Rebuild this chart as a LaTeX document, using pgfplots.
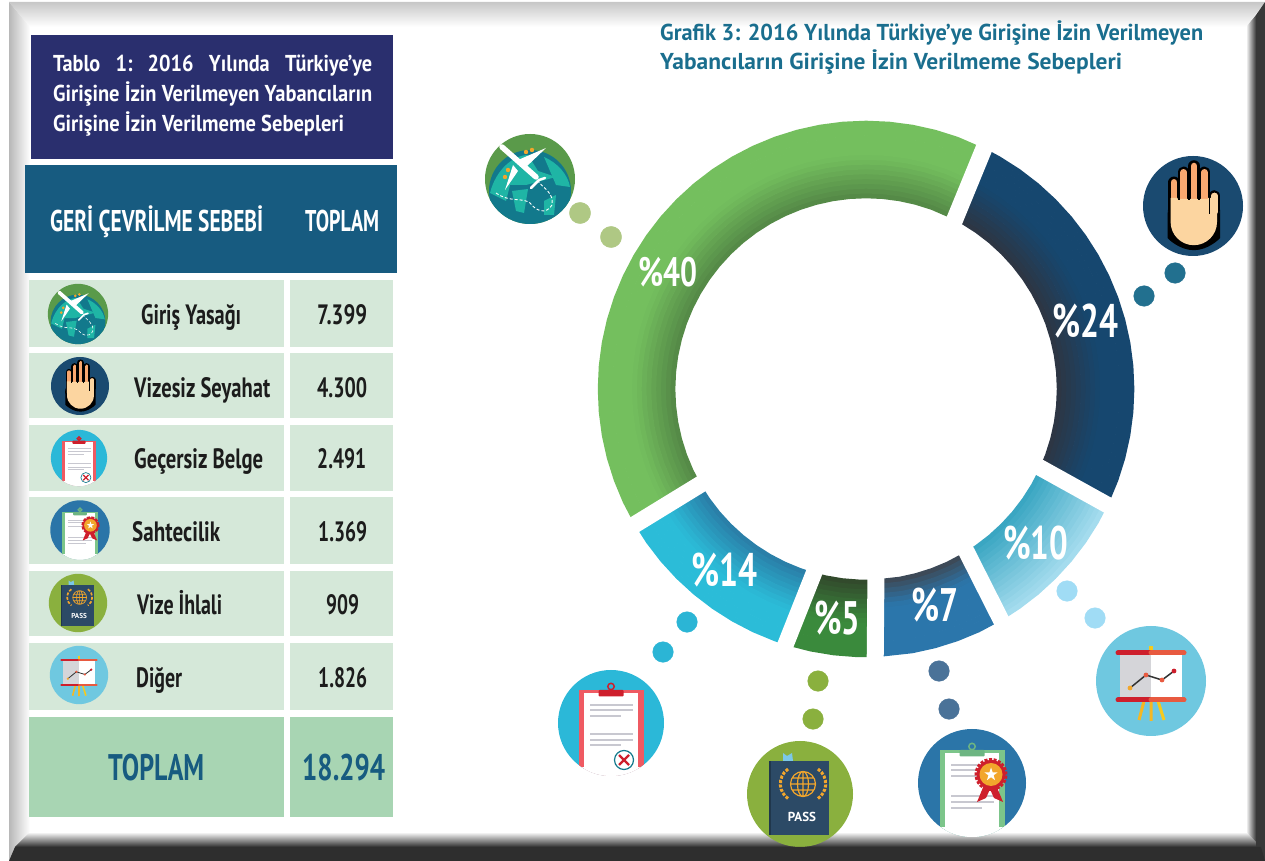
\documentclass[border=0pt]{standalone}
\usepackage{fontspec}
\usepackage{graphicx}
\usepackage{pgfplots}
\usepackage{pgfplotstable}
\pgfplotsset{compat=1.18}
\setmainfont{PT Sans}
\newfontfamily\din{PT Sans}[BoldFont={PT Sans Bold}]

\definecolor{cNavyBox}{HTML}{2A2F6E}
\definecolor{cHead}{HTML}{175B80}
\definecolor{cRow}{HTML}{D5E8D9}
\definecolor{cTotal}{HTML}{A8D5B3}
\definecolor{cTitle}{HTML}{1A6E8E}
\definecolor{cInk}{HTML}{1C1C1C}
\definecolor{gIn}{HTML}{558A47}\definecolor{gOut}{HTML}{74BF5E}
\definecolor{nIn}{HTML}{2D3644}\definecolor{nOut}{HTML}{16476F}
\definecolor{lIn}{HTML}{3AA6C2}\definecolor{lOut}{HTML}{A4DCEE}
\definecolor{bIn}{HTML}{3D4A58}\definecolor{bOut}{HTML}{2B76AB}
\definecolor{dIn}{HTML}{324A2C}\definecolor{dOut}{HTML}{3A8A3C}
\definecolor{cIn}{HTML}{2A7FA8}\definecolor{cOut}{HTML}{2BBCD8}

% ring segments: angles in degrees, ends meet in the middle of the white gaps
\pgfplotstableread{
theta
63.2
60
55
50
45
40
35
30
25
20
15
10
5
0
-5
-10
-15
-20
-25
}\tNavy
\pgfplotstableread{
theta
-25
-30
-35
-40
-45
-50
-55
-59
}\tLight
\pgfplotstableread{
theta
-59
-65
-70
-75
-80
-87.5
}\tBlue
\pgfplotstableread{
theta
-87.5
-92
-97
-102
-106.6
}\tDark
\pgfplotstableread{
theta
-106.6
-110
-115
-120
-125
-130
-135
-140
-145
-149.8
}\tCyan
\pgfplotstableread{
theta
-149.8
-155
-160
-165
-170
-175
-180
-185
-190
-195
-200
-205
-210
-215
-220
-225
-230
-235
-240
-245
-250
-255
-260
-265
-270
-275
-280
-285
-290
-296.8
}\tGreen

\def\stripx#1#2#3#4/#5;{%
  \addplot[no markers, data cs=polar, line width=5.4pt, draw=#2!#5!#3]
    table[x index=0, y index=0, y expr=#4] {#1};}
% inner shadow over about 45 px
\newcommand\segA[3]{\pgfplotsinvokeforeach{193.4/100;,198.2/88;,203/76;,207.8/64;,212.6/52;,217.5/40;,222.3/28;,227.1/16;,231.9/6;,236.7/0;,241.5/0;,246.3/0;,251.1/0;,256/0;,260.8/0;,265.6/0;}{\stripx{#1}{#2}{#3}##1}}
% gradient across the whole ring
\newcommand\segB[3]{\pgfplotsinvokeforeach{193.4/100;,198.2/93;,203/87;,207.8/80;,212.6/73;,217.5/67;,222.3/60;,227.1/53;,231.9/47;,236.7/40;,241.5/33;,246.3/27;,251.1/20;,256/13;,260.8/7;,265.6/0;}{\stripx{#1}{#2}{#3}##1}}
% short dark edge, about 25 px
\newcommand\segC[3]{\pgfplotsinvokeforeach{193.4/100;,198.2/80;,203/60;,207.8/40;,212.6/20;,217.5/5;,222.3/0;,227.1/0;,231.9/0;,236.7/0;,241.5/0;,246.3/0;,251.1/0;,256/0;,260.8/0;,265.6/0;}{\stripx{#1}{#2}{#3}##1}}

\newcommand\fs[1]{\fontsize{#1}{#1}\selectfont}
% x, baseline, width, size, colour, text: width is forced to the measured one
\newcommand\tx[6]{\node[anchor=base west, inner sep=0pt, text=#5] at (#1,#2)
  {\resizebox{#3pt}{\height}{\din\bfseries\fs{#4}#6}};}

\newcommand\iconplane[3]{\begin{scope}[shift={(#1,#2)},y=1pt,scale=#3]
  \fill[HTMLg] (0,0) circle (45);
  \begin{scope}
    \clip (0,0) circle (45);
    \fill[HTMLt] (0,-12) circle (41);
    \fill[HTMLl] (-40,-14) .. controls (-34,10) and (-16,24) .. (-2,24) -- (8,8) -- (26,2) -- (-4,-6) -- (-20,-6) -- (-24,-22) -- cycle;
    \fill[HTMLl] (-18,-12) -- (-2,-10) -- (-6,-34) -- (-14,-32) -- cycle;
    \fill[HTMLl] (14,22) .. controls (28,16) and (38,4) .. (40,-8) -- (26,-6) -- (20,8) -- cycle;
    \fill[HTMLl] (14,-22) -- (26,-16) -- (24,-36) -- (14,-36) -- cycle;
  \end{scope}
  \draw[white, line width=#3*0.9pt, dash pattern=on 3pt off 2pt] (-34,-14) .. controls (-20,-24) and (-8,-18) .. (0,-24) .. controls (6,-32) and (16,-36) .. (22,-26) .. controls (24,-14) and (14,-10) .. (8,-2);
  \fill[HTMLo] (-4,27) circle (2.2) (2,29) circle (2.2) (-22,9) circle (2.2) (-25,2) circle (2.2);
  \draw[white, line cap=round, line width=#3*5.5pt] (-28,32) -- (6,2);
  \fill[white] (-12,19) -- (16,31) -- (-5,11) -- cycle;
  \fill[white] (-17,14) -- (-25,-11) -- (-12,8) -- cycle;
  \draw[white, line width=#3*2.5pt, line cap=round] (1,-9) -- (9,-1) -- (15,1);
\end{scope}}

\newcommand\iconhand[3]{\begin{scope}[shift={(#1,#2)},y=1pt,scale=#3]
  \fill[HTMLn] (0,0) circle (50);
  \foreach \fx/\ft in {-19/27.7,-9.3/37.7,1/44,11.3/37.7,21.3/14}{
    \draw[black, line cap=round, line width=#3*11.5pt] (\fx,-4) -- (\fx,\ft-4);
  }
  \fill[black, rounded corners=14*#3pt] (-25.5,4) -- (27,4) -- (27,-18) arc (0:-180:26.2) -- cycle;
  \foreach \fx/\ft in {-19/27.7,-9.3/37.7,1/44,11.3/37.7,21.3/14}{
    \draw[HTMLa, line cap=round, line width=#3*6.5pt] (\fx,6) -- (\fx,\ft-4);
  }
  \fill[HTMLb] (-22.5,8) -- (-15.5,8) -- (-15.5,7) -- (15,7) -- (15,8) -- (24,8) -- (24,-16) arc (0:-180:23.2) -- cycle;
  \draw[HTMLb, line width=#3*6.5pt, line cap=round] (21.3,-6) -- (21.3,10);
  \draw[black, line width=#3*1.6pt] (-14.2,27) -- (-14.2,6) (-4.2,32) -- (-4.2,6) (6.2,32) -- (6.2,6) (16.4,24) -- (16.4,-8);
\end{scope}}

% shared clipboard body: radius, colours of disc, board, clip
\newcommand\clipboard[4]{
  \fill[#2] (0,0) circle (#1);
  \begin{scope}
    \clip (0,0) circle (#1);
    \fill[#3] (-32.5,32.5) rectangle (32.5,-60);
    \fill[white] (-27,30) rectangle (27,-60);
    \fill[white] (-60,-44) rectangle (60,-60);
  \end{scope}
  \fill[#4, rounded corners=1pt] (-12.5,33) rectangle (12.5,26.5);
  \draw[#4, line width=1.5pt] (0,36.5) circle (3.2);
}

\newcommand\iconcross[3]{\begin{scope}[shift={(#1,#2)},y=1pt,scale=#3]
  \clipboard{53}{HTMLc}{HTMLr}{HTMLq}
  \draw[HTMLs, line width=#3*1.7pt]
    (-21,18) -- (22,18) (-21,13) -- (22,13) (-21,7) -- (10,7)
    (-21,-11) -- (22,-11) (-21,-17) -- (22,-17) (-21,-22) -- (10,-22);
  \fill[white] (13,-37) circle (10);
  \draw[HTMLt, line width=#3*1.2pt] (13,-37) circle (9.5);
  \draw[HTMLq, line width=#3*2.4pt] (8,-32) -- (18,-42) (8,-42) -- (18,-32);
\end{scope}}

\newcommand\iconaward[3]{\begin{scope}[shift={(#1,#2)},y=1pt,scale=#3]
  \clipboard{54}{HTMLu}{HTMLv}{HTMLw}
  \draw[HTMLs, line width=#3*1.7pt]
    (-21,18) -- (10,18) (-21,13) -- (10,13) (-21,7) -- (5,7)
    (-21,-13) -- (22,-13) (-21,-19) -- (22,-19) (-21,-25) -- (10,-25);
  \fill[HTMLq] (12,-2) -- (5,-19) -- (14,-15) -- (19,-4) -- cycle;
  \fill[HTMLq] (24,-2) -- (31,-19) -- (22,-15) -- (17,-4) -- cycle;
  \fill[HTMLq] (19,8.5) circle (14.5);
  \draw[HTMLq, line width=#3*3pt, dash pattern=on 3pt off 1.5pt] (19,8.5) circle (15);
  \fill[HTMLo] (19,8.5) circle (11.5);
  \fill[white] (19,15.5) -- (20.6,10.7) -- (25.7,10.7) -- (21.6,7.7) -- (23.1,2.8) -- (19,5.8) -- (14.9,2.8) -- (16.4,7.7) -- (12.3,10.7) -- (17.4,10.7) -- cycle;
\end{scope}}

\newcommand\iconpass[3]{\begin{scope}[shift={(#1,#2)},y=1pt,scale=#3]
  \fill[HTMLp] (0,0) circle (53);
  \fill[HTMLx] (-17,33) -- (-17,41) -- (-13,38) -- (-8,41) -- (-7,33) -- cycle;
  \fill[HTMLy] (-31,33) rectangle (29,-41);
  \fill[black, opacity=.25] (-31,33) rectangle (-29,-41);
  \draw[HTMLo, line width=#3*1.2pt] (3,10) circle (12.5) (3,10) ellipse (5.5 and 12.5)
     (-9.5,10) -- (15.5,10) (-8,16) -- (14,16) (-8,4) -- (14,4) (3,22.5) -- (3,-2.5);
  \draw[HTMLo, line width=#3*3pt, dash pattern=on 3pt off 1.5pt] (-12,25) arc (125:235:18) (18,25) arc (55:-55:18);
  \node[text=white, inner sep=0pt, scale=#3] at (2,-23) {\din\bfseries\fs{13}PASS};
\end{scope}}

\newcommand\iconchart[3]{\begin{scope}[shift={(#1,#2)},y=1pt,scale=#3]
  \fill[HTMLz] (0,0) circle (55);
  \fill[HTMLo!60!yellow] (-1.8,35) rectangle (1.8,25);
  \fill[HTMLs!80!gray!60] (-31,26) rectangle (0,-18);
  \fill[white] (0,26) rectangle (31,-18);
  \draw[HTMLo!80!yellow, line width=#3*3pt] (0,-20) -- (0,-40) (-7,-20) -- (-12,-39);
  \draw[HTMLo!60!yellow, line width=#3*3pt] (7,-20) -- (13,-39);
  \draw[HTMLq, line width=#3*5pt, line cap=round] (-33,28) -- (0,28) (-33,-19) -- (0,-19);
  \draw[HTMLe, line width=#3*5pt, line cap=round] (0,28) -- (33,28) (0,-19) -- (33,-19);
  \draw[HTMLk, line width=#3*1.5pt] (-21,-7) -- (-5,6) -- (11,1) -- (23,10);
  \fill[HTMLo] (-21,-7) circle (2.4);
  \fill[HTMLe] (-5,6) circle (2.4) (11,1) circle (2.4);
  \fill[HTMLq] (23,10) circle (2.4);
\end{scope}}

\definecolor{HTMLg}{HTML}{5A9A4A}\definecolor{HTMLt}{HTML}{12798C}
\definecolor{HTMLl}{HTML}{1FB5A5}\definecolor{HTMLo}{HTML}{F2A62C}
\definecolor{HTMLn}{HTML}{1A4A70}\definecolor{HTMLa}{HTML}{F9A870}
\definecolor{HTMLb}{HTML}{FCD5A0}\definecolor{HTMLc}{HTML}{2BB8D8}
\definecolor{HTMLr}{HTML}{EF5A62}\definecolor{HTMLq}{HTML}{CE1F2C}
\definecolor{HTMLs}{HTML}{C8C8D0}\definecolor{HTMLu}{HTML}{2B75A8}
\definecolor{HTMLv}{HTML}{7CC58A}\definecolor{HTMLw}{HTML}{6DB582}
\definecolor{HTMLp}{HTML}{8AB03E}\definecolor{HTMLx}{HTML}{7CC8E8}
\definecolor{HTMLy}{HTML}{2C4A66}\definecolor{HTMLz}{HTML}{6FC8E0}
\definecolor{HTMLe}{HTML}{E85A40}\definecolor{HTMLk}{HTML}{333333}
\definecolor{dotA}{RGB}{175,200,132}\definecolor{dotB}{RGB}{34,112,143}
\definecolor{dotC}{RGB}{43,181,213}\definecolor{dotD}{RGB}{138,176,62}
\definecolor{dotE}{RGB}{74,114,152}\definecolor{dotF}{RGB}{160,220,245}

\begin{document}
\begin{tikzpicture}
\useasboundingbox (0pt,0pt) rectangle (1265pt,861pt);

% bevel shading goes under everything else
\begin{scope}[shift={(0pt,861pt)}, x=1pt, y=-1pt]
\shade[top color=black!22, bottom color=white] (9,2) -- (1265,2) -- (1246,27) -- (30,27) -- cycle;
\shade[left color=black!28, right color=white] (9,2) -- (30,27) -- (30,832) -- (9,861) -- cycle;
\shade[left color=white, right color=black!78] (1246,27) -- (1256,15) -- (1256,847) -- (1246,832) -- cycle;
\shade[top color=white, bottom color=black!82] (30,832) -- (1246,832) -- (1261,847) -- (15,847) -- cycle;
\end{scope}

% ring, centred on the origin, one unit is one pixel of the reference
\begin{axis}[at={(0pt,0pt)}, anchor=south west, width=1265pt, height=861pt,
  scale only axis, hide axis, xmin=-866, xmax=399, ymin=-472, ymax=389]
\segA{\tNavy}{nIn}{nOut}
\segB{\tLight}{lIn}{lOut}
\segC{\tBlue}{bIn}{bOut}
\segA{\tDark}{dIn}{dOut}
\segA{\tCyan}{cIn}{cOut}
\segA{\tGreen}{gIn}{gOut}
\addplot[white, no markers, line width=17pt] coordinates {(123,253) (84,158)};
\addplot[white, no markers, line width=16.5pt] coordinates {(254,-123) (162,-72)};
\addplot[white, no markers, line width=16.5pt] coordinates {(142,-245) (94,-150)};
\addplot[white, no markers, line width=17pt] coordinates {(9,-285) (10,-174)};
\addplot[white, no markers, line width=16.5pt] coordinates {(-87,-272) (-45.6,-167.6)};
\addplot[white, no markers, line width=17pt] coordinates {(-245,-144) (-152,-87)};
\end{axis}

% dots between the ring and the icons
\begin{axis}[at={(0pt,0pt)}, anchor=south west, width=1265pt, height=861pt,
  scale only axis, hide axis, xmin=0, xmax=1265, ymin=0, ymax=861, y dir=reverse]
\addplot[only marks, mark=*, mark size=10.6pt, color=dotA, mark options={draw=dotA, fill=dotA}] coordinates {(580,213) (611,237)};
\addplot[only marks, mark=*, mark size=10.3pt, color=dotB, mark options={draw=dotB, fill=dotB}] coordinates {(1175,273) (1144,296)};
\addplot[only marks, mark=*, mark size=10.3pt, color=dotC, mark options={draw=dotC, fill=dotC}] coordinates {(687,622) (663,652)};
\addplot[only marks, mark=*, mark size=10.3pt, color=dotD, mark options={draw=dotD, fill=dotD}] coordinates {(818,681) (813,719)};
\addplot[only marks, mark=*, mark size=10.3pt, color=dotE, mark options={draw=dotE, fill=dotE}] coordinates {(939,671) (949,709)};
\addplot[only marks, mark=*, mark size=10.3pt, color=dotF, mark options={draw=dotF, fill=dotF}] coordinates {(1067,591) (1095,618)};
\end{axis}

% table, labels, icons and frame in reference pixels, y downwards
\begin{scope}[shift={(0pt,861pt)}, x=1pt, y=-1pt]
\fill[cNavyBox] (31,35) rectangle (393,159);
\fill[cHead] (25,165) rectangle (397,273);
\foreach \ya/\yb in {280/347,353/418,425/491,497/564,571/636,643/710}{
  \fill[cRow] (29,\ya) rectangle (284,\yb);
  \fill[cRow] (290,\ya) rectangle (393,\yb);
}
\fill[cTotal] (29,717) rectangle (284,817);
\fill[cTotal] (290,717) rectangle (393,817);

\tx{53}{72}{319}{23}{white}{Tablo\hspace{.75em}1:\hspace{.75em}2016\hspace{.75em}Yılında\hspace{.75em}Türkiye’ye}
\tx{53}{102}{319}{23}{white}{Girişine İzin Verilmeyen Yabancıların}
\tx{53}{132}{291}{23}{white}{Girişine İzin Verilmeme Sebepleri}

\tx{50}{232}{213}{30}{white}{GERİ ÇEVRİLME SEBEBİ}
\tx{305}{232}{74}{30}{white}{TOPLAM}

\tx{141}{325}{100}{28}{cInk}{Giriş Yasağı}
\tx{134}{398}{136}{28}{cInk}{Vizesiz Seyahat}
\tx{134}{469}{129}{28}{cInk}{Geçersiz Belge}
\tx{132}{542}{88}{28}{cInk}{Sahtecilik}
\tx{137}{615}{85}{28}{cInk}{Vize İhlali}
\tx{136}{688}{46}{28}{cInk}{Diğer}
\tx{317}{325}{50}{28}{cInk}{7.399}
\tx{317}{398}{50}{28}{cInk}{4.300}
\tx{317}{469}{49}{28}{cInk}{2.491}
\tx{318}{542}{49}{28}{cInk}{1.369}
\tx{326}{615}{33}{28}{cInk}{909}
\tx{318}{688}{49}{28}{cInk}{1.826}
\tx{108}{781}{96}{37}{cHead}{TOPLAM}
\tx{302}{781}{83}{37}{cHead}{18.294}

\tx{660}{41}{543}{23}{cTitle}{Grafik 3: 2016 Yılında Türkiye’ye Girişine İzin Verilmeyen}
\tx{660}{70}{462}{23}{cTitle}{Yabancıların Girişine İzin Verilmeme Sebepleri}

\tx{638}{287}{59}{41}{white}{\%40}
\tx{1052}{338}{66}{47}{white}{\%24}
\tx{1003}{560}{65}{47}{white}{\%10}
\tx{911}{622}{47}{47}{white}{\%7}
\tx{814}{635}{46}{47}{white}{\%5}
\tx{691}{587}{66}{47}{white}{\%14}

\iconplane{530}{179}{1}
\iconhand{1193}{206}{1}
\iconcross{611}{723}{1}
\iconpass{800}{794}{1}
\iconaward{972}{783}{1}
\iconchart{1151}{681}{1}
\iconplane{78}{314}{0.67}
\iconhand{80}{386}{0.58}
\iconcross{79}{458}{0.53}
\iconaward{80}{530}{0.55}
\iconpass{78}{603}{0.55}
\iconchart{79}{675}{0.53}

% solid part of the bevel goes over the icons
\fill[black!78] (1256,15) -- (1265,2) -- (1265,861) -- (1256,847) -- cycle;
\fill[black!82] (15,847) -- (1261,847) -- (1265,861) -- (9,861) -- cycle;
\end{scope}
\end{tikzpicture}
\end{document}
